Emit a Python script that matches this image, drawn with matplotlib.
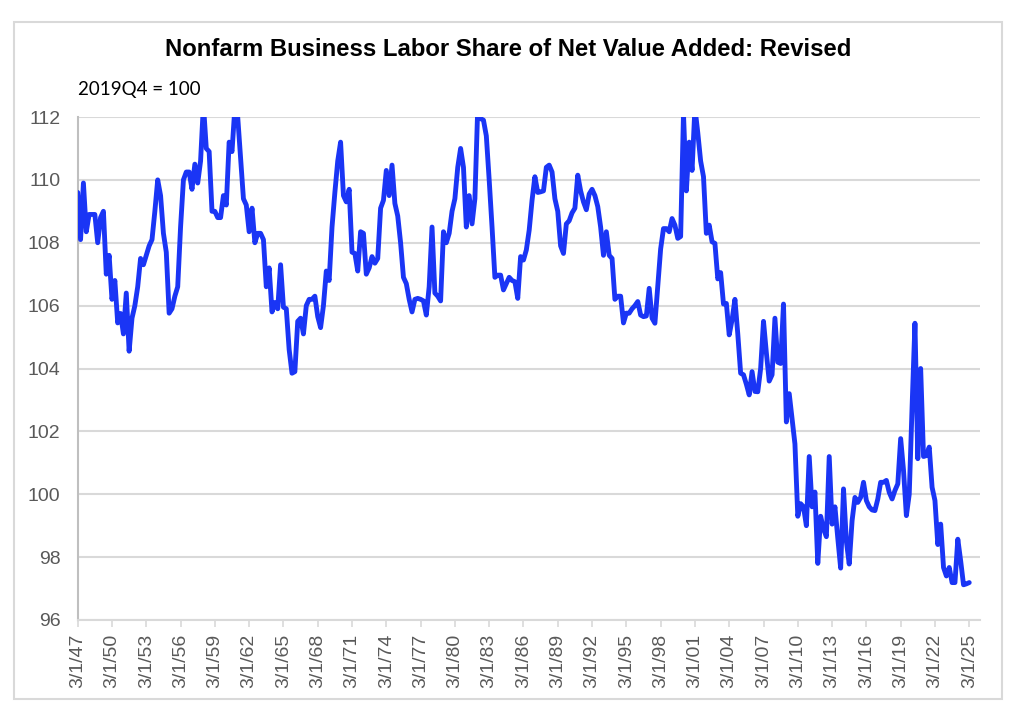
import numpy as np
import matplotlib
matplotlib.use("Agg")
import matplotlib.pyplot as plt
from matplotlib.patches import Rectangle

# ---- data (quarterly, starting 1947Q1) ----
start_year = 1947
labor_share = [
    109.6, 108.1, 109.9, 108.35, 108.9, 108.9, 108.9, 108.0, 108.8, 109.0,
    107.0, 107.6, 106.2, 106.8, 105.45, 105.75, 105.1, 106.4, 104.55, 105.6,
    106.0, 106.6, 107.5, 107.3, 107.6, 107.9, 108.1, 109.0, 110.0, 109.5,
    108.3, 107.7, 105.76, 105.9, 106.3, 106.6, 108.5, 110.0, 110.25, 110.25,
    109.7, 110.5, 109.9, 110.6, 112.4, 111.0, 110.9, 109.0, 109.0, 108.8,
    108.8, 109.5, 109.2, 111.2, 110.9, 112.3, 112.0, 110.7, 109.4, 109.2,
    108.35, 109.1, 108.0, 108.3, 108.3, 108.1, 106.6, 107.2, 105.8, 106.1,
    105.9, 107.3, 105.95, 105.9, 104.6, 103.85, 103.9, 105.5, 105.6, 105.1,
    106.0, 106.2, 106.2, 106.3, 105.65, 105.3, 106.0, 107.1, 106.8, 108.5,
    109.6, 110.6, 111.2, 109.5, 109.3, 109.7, 107.7, 107.66, 107.1, 108.35,
    108.3, 107.0, 107.2, 107.56, 107.35, 107.5, 109.1, 109.35, 110.3, 109.5,
    110.47, 109.25, 108.85, 108.0, 106.9, 106.7, 106.2, 105.8, 106.2, 106.23,
    106.2, 106.15, 105.7, 106.6, 108.5, 106.4, 106.3, 106.15, 108.35, 108.0,
    108.3, 109.0, 109.4, 110.4, 111.0, 110.4, 108.5, 109.5, 108.6, 109.4,
    112.3, 111.95, 111.9, 111.4, 110.0, 108.5, 106.9, 106.97, 106.97, 106.5,
    106.7, 106.9, 106.8, 106.76, 106.23, 107.56, 107.45, 107.77, 108.4, 109.35,
    110.1, 109.6, 109.62, 109.65, 110.4, 110.47, 110.25, 109.4, 109.0, 107.9,
    107.66, 108.6, 108.7, 108.95, 109.1, 110.15, 109.65, 109.3, 109.05, 109.55,
    109.7, 109.5, 109.15, 108.5, 107.6, 108.35, 107.6, 107.5, 106.2, 106.3,
    106.3, 105.45, 105.76, 105.76, 105.9, 106.0, 106.13, 105.7, 105.65, 105.67,
    106.55, 105.6, 105.44, 106.6, 107.8, 108.45, 108.45, 108.35, 108.77, 108.56,
    108.14, 108.2, 112.1, 109.65, 111.2, 110.3, 112.3, 111.5, 110.6, 110.1,
    108.3, 108.56, 108.03, 107.98, 106.85, 107.05, 106.05, 106.07, 105.07, 105.55,
    106.2, 105.1, 103.85, 103.8, 103.5, 103.16, 103.9, 103.27, 103.26, 104.0,
    105.5, 104.5, 103.6, 103.8, 105.6, 104.2, 104.16, 106.05, 102.3, 103.2,
    102.4, 101.6, 99.3, 99.7, 99.6, 99.0, 101.2, 99.6, 100.07, 97.8,
    99.3, 98.9, 98.65, 101.2, 99.05, 99.6, 98.6, 97.65, 100.17, 98.5,
    97.78, 99.16, 99.9, 99.74, 99.9, 100.38, 99.8, 99.6, 99.5, 99.48,
    99.85, 100.38, 100.38, 100.44, 100.06, 99.85, 100.12, 100.33, 101.77, 100.76,
    99.32, 100.0, 102.78, 105.44, 101.13, 104.0, 101.2, 101.23, 101.5, 100.22,
    99.8, 98.4, 99.05, 97.67, 97.4, 97.67, 97.19, 97.19, 98.57, 97.88,
    97.12, 97.15, 97.19,
]
tick_years = list(range(1947, 2026, 3))
tick_labels = ["3/1/%02d" % (y % 100) for y in tick_years]
y_ticks = [96, 98, 100, 102, 104, 106, 108, 110, 112]
title = "Nonfarm Business Labor Share of Net Value Added: Revised"
subtitle = "2019Q4 = 100"

x = start_year + np.arange(len(labor_share)) / 4.0

W, H = 1022, 720
fig = plt.figure(figsize=(W / 100, H / 100), dpi=100)
fig.patch.set_facecolor("white")

# outer chart border
fig.add_artist(Rectangle((14 / W, 1 - 699 / H), (1002 - 14) / W, (699 - 22) / H,
                         transform=fig.transFigure, fill=False,
                         edgecolor="#d9d9d9", linewidth=1.5))

left, right, top, bottom = 77.7, 979.5, 117, 620
ax = fig.add_axes([left / W, 1 - bottom / H, (right - left) / W, (bottom - top) / H])

ax.plot(x, labor_share, color="#1a35f5", linewidth=3.5, solid_joinstyle="round",
        solid_capstyle="round", zorder=3)

ax.set_ylim(96, 112)
ax.set_xlim(1947, 1947 + (right - left) / 11.43)
ax.set_yticks(y_ticks)
ax.set_yticklabels([str(v) for v in y_ticks])
ax.set_xticks(tick_years)
ax.set_xticklabels(tick_labels, rotation=90)

for lab in ax.get_xticklabels() + ax.get_yticklabels():
    lab.set_fontfamily("Liberation Sans")
    lab.set_fontsize(14)
    lab.set_color("#595959")

ax.grid(axis="y", color="#d9d9d9", linewidth=1.5, zorder=0)
ax.set_axisbelow(True)
ax.tick_params(axis="y", length=0, pad=12.5)
ax.tick_params(axis="x", length=5, width=1.2, color="#d9d9d9", pad=5, direction="out")
for s in ["top", "right"]:
    ax.spines[s].set_visible(False)
for s in ["left", "bottom"]:
    ax.spines[s].set_color("#bfbfbf")
    ax.spines[s].set_linewidth(1.5)
ax.spines["bottom"].set_color("#d9d9d9")

fig.text(508 / W, 1 - 49 / H, title, ha="center", va="center",
         fontfamily="Liberation Sans", fontweight="bold", fontsize=17.2, color="black")
fig.text(78 / W, 1 - 89 / H, subtitle, ha="left", va="center",
         fontfamily="Lato", fontsize=13.5, color="black")

fig.savefig("out.png", dpi=100, facecolor="white")
